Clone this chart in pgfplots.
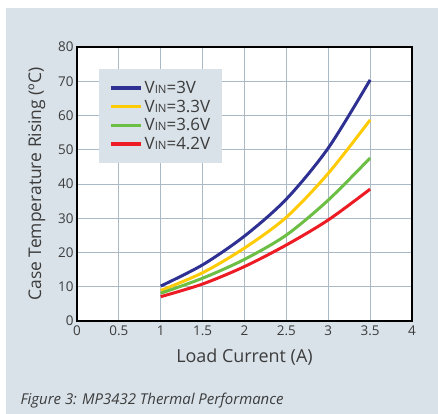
\documentclass[border=0pt]{standalone}
\usepackage{pgfplots}
\pgfplotsset{compat=1.18}
\usepackage{fontspec}
\setmainfont{Open Sans}
\definecolor{bgpanel}{HTML}{D9E2E9}
\definecolor{gridc}{HTML}{A9B9C5}
\definecolor{txt}{HTML}{3C3C3C}
\definecolor{vblue}{HTML}{2E3192}
\definecolor{vyellow}{HTML}{FFCB05}
\definecolor{vgreen}{HTML}{6DBE45}
\definecolor{vred}{HTML}{ED1C24}
\newcommand{\vin}[1]{V{\fontsize{11.5}{11.5}\selectfont IN}=#1}
\begin{document}
\begin{tikzpicture}
% page and panel
\path[use as bounding box, fill=white] (0,0) rectangle (438bp,414bp);
\fill[bgpanel] (6bp,0) rectangle (438bp,406bp);
\begin{axis}[
    at={(77bp,93bp)}, anchor=south west,
    width=335bp, height=274bp, scale only axis,
    xmin=0, xmax=4, ymin=0, ymax=80,
    xtick={0,0.5,...,4}, ytick={0,10,...,80},
    major tick length=0pt,
    grid=major,
    grid style={gridc, line width=0.9pt},
    axis line style={black, line width=1.3pt},
    axis background/.style={fill=white},
    tick label style={font=\fontsize{13.5}{15}\selectfont, text=txt},
    /pgf/number format/assume math mode=true,
    x tick label style={yshift=-1bp},
    xlabel={Load Current (A)},
    ylabel={Case Temperature Rising (ºC)},
    every axis x label/.style={at={(axis description cs:0.5,-0.131)}, anchor=center,
        font=\fontsize{18}{20}\selectfont, text=txt},
    every axis y label/.style={at={(axis description cs:-0.12,0.5)}, rotate=90, anchor=center,
        font=\fontsize{17.5}{20}\selectfont, text=txt},
    legend style={at={(axis cs:0.263,73.6)}, anchor=north west,
        fill=bgpanel, draw=none, font=\fontsize{17}{19}\selectfont,
        text=txt, row sep=1bp, inner xsep=10bp, inner ysep=10bp},
    legend cell align=left,
    legend image code/.code={\draw[#1, line width=3.5pt] (0bp,0bp) -- (30bp,0bp);},
    every axis plot/.append style={line width=3pt, smooth},
]
\addplot[vblue] coordinates {(1,10.2)(1.5,16.4)(2,24.8)(2.5,35.6)(3,50.5)(3.5,70.4)};
\addlegendentry{\vin{3V}}
\addplot[vyellow] coordinates {(1,8.9)(1.5,14.1)(2,21.3)(2.5,30.3)(3,43.1)(3.5,58.7)};
\addlegendentry{\vin{3.3V}}
\addplot[vgreen] coordinates {(1,8.1)(1.5,12.5)(2,18.0)(2.5,25.1)(3,35.3)(3.5,47.6)};
\addlegendentry{\vin{3.6V}}
\addplot[vred] coordinates {(1,7.1)(1.5,10.8)(2,15.9)(2.5,22.2)(3,29.5)(3.5,38.5)};
\addlegendentry{\vin{4.2V}}
\end{axis}
\node[anchor=west, text=txt, font=\itshape\fontsize{15}{17}\selectfont] at (17bp,13bp) {Figure 3: MP3432 Thermal Performance};
\end{tikzpicture}
\end{document}
